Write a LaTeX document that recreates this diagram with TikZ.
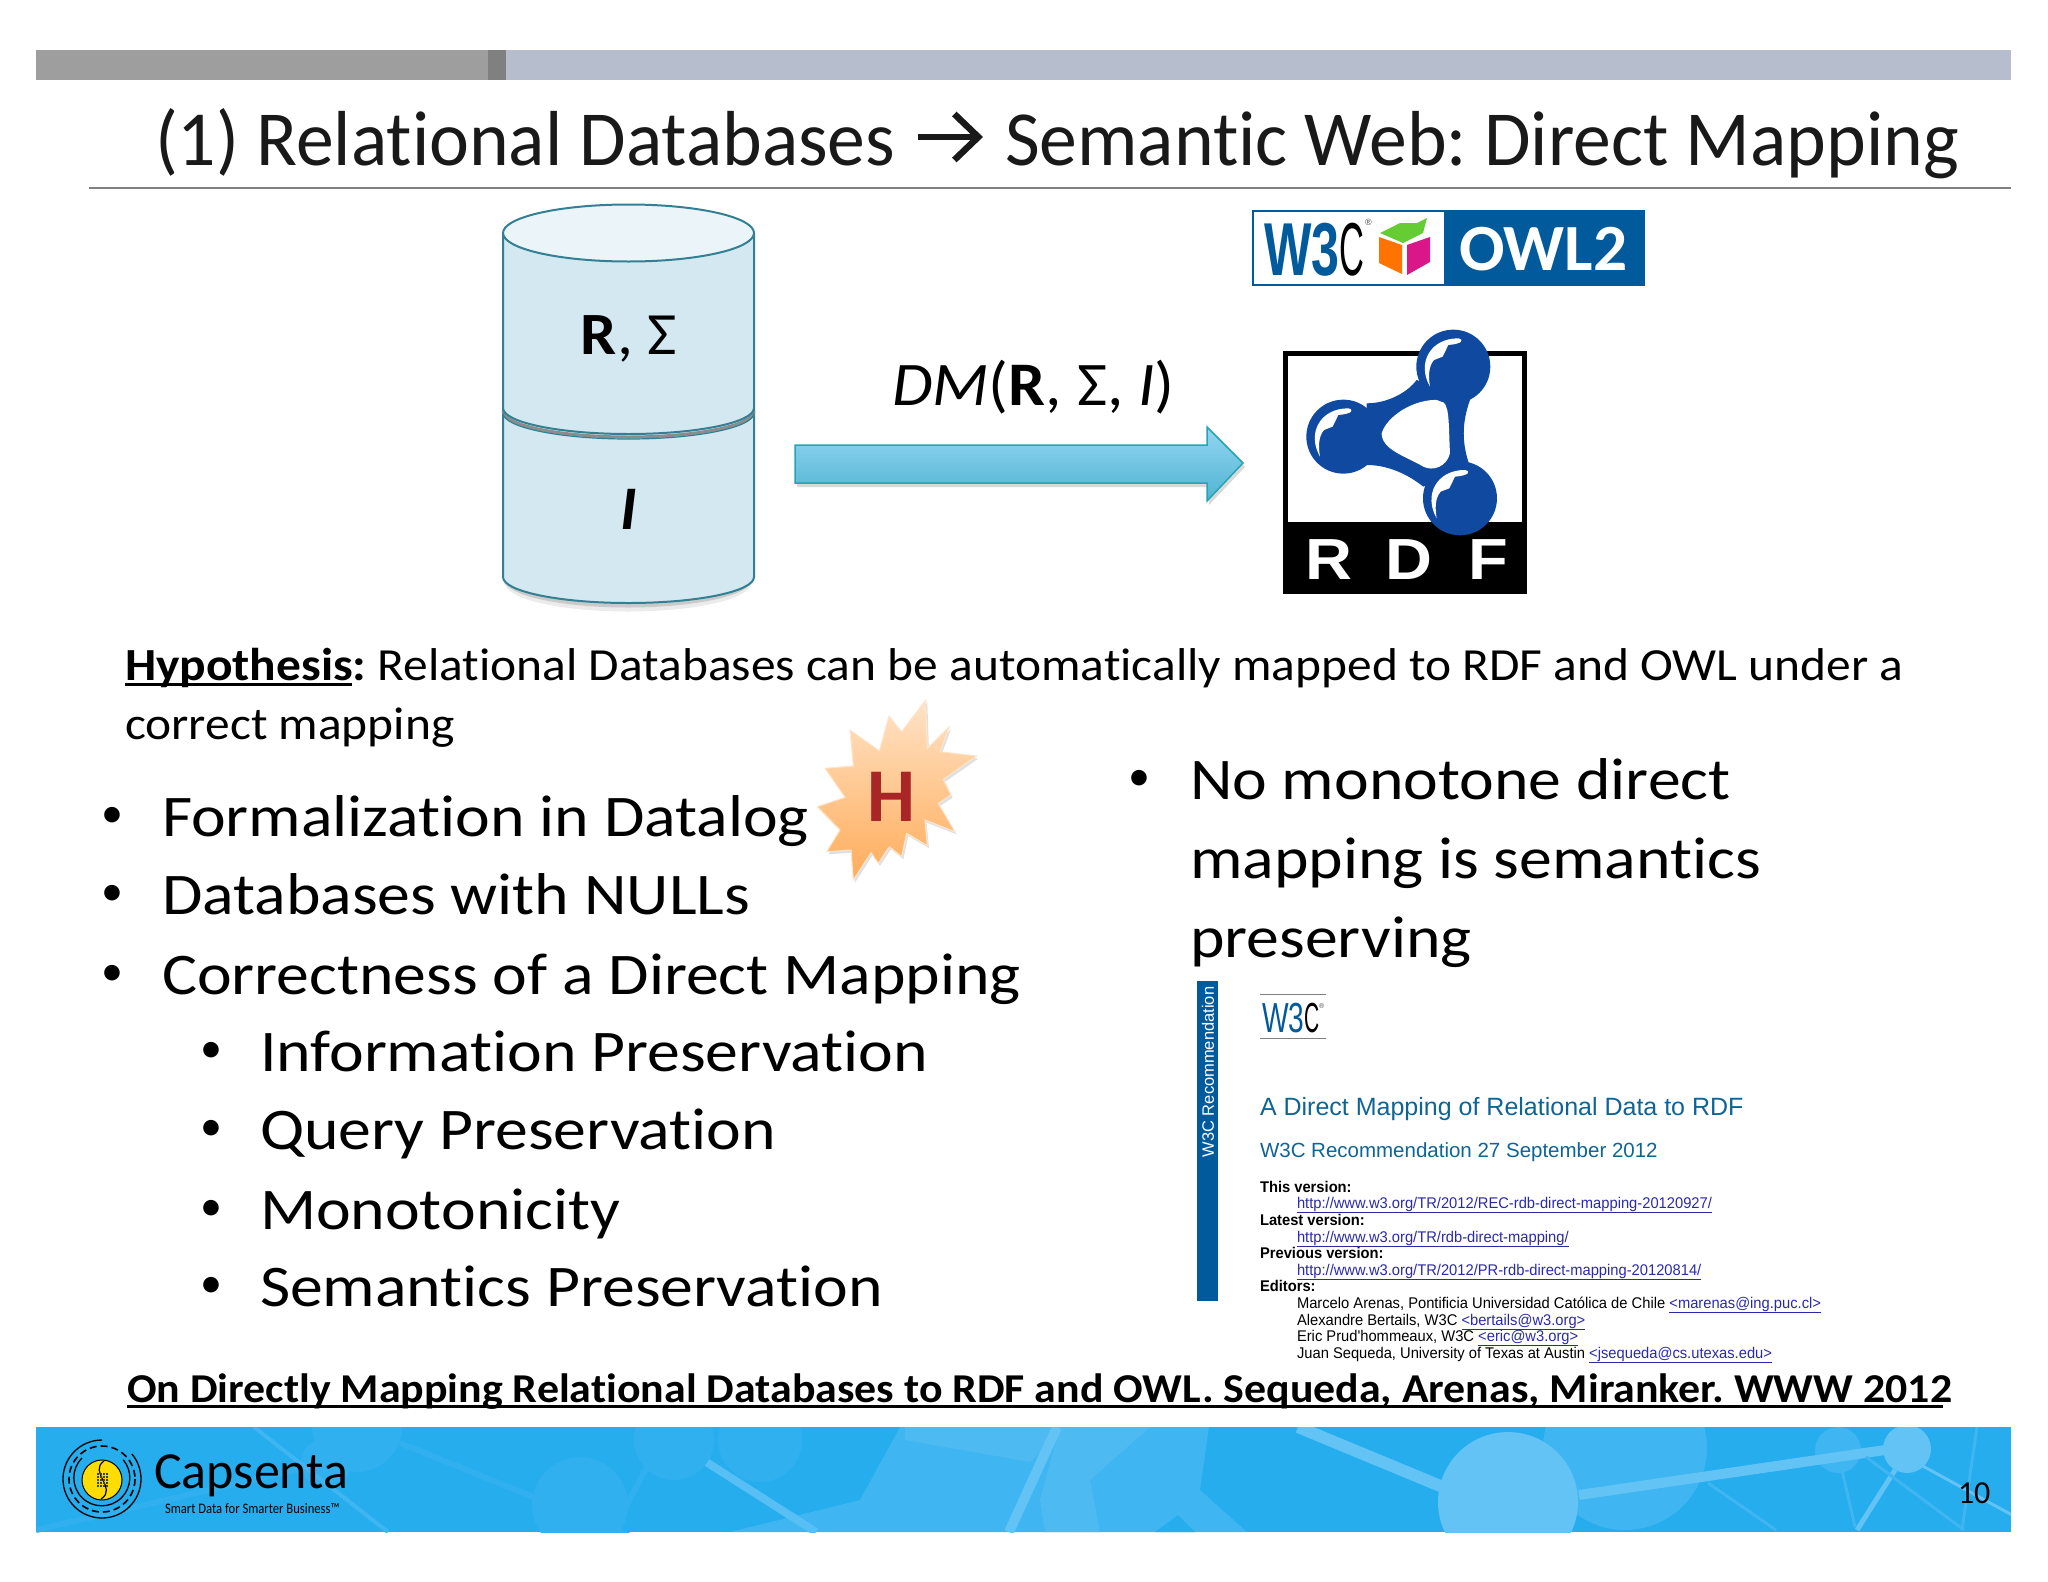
\documentclass[tikz,border=0pt]{standalone}
\usepackage{fontspec}
\setmainfont[Ligatures=NoCommon]{Carlito}
\newfontfamily\arialfont{Liberation Sans}
\usepackage{tikz}
\usetikzlibrary{positioning,arrows.meta}
\newcommand{\fsz}[1]{\fontsize{#1}{#1}\selectfont}
\newcommand{\lnk}[1]{{\color{linkblue}\underline{#1}}}
\newsavebox{\ulbox}
\newcommand{\thickul}[1]{\sbox{\ulbox}{#1}\rlap{\rule[-6pt]{.995\wd\ulbox}{3pt}}\usebox{\ulbox}}
\newcommand{\rdfshine}[2]{\fill[white, shift={(#1,#2)}] (690,590) .. controls (650,520) and (690,445) .. (775,445) .. controls (795,450) and (785,462) .. (745,465) -- (728,500) -- (702,510) .. controls (685,530) and (685,560) .. cycle;}
\definecolor{barblue}{HTML}{B6BDCC}
\definecolor{linkblue}{HTML}{2A2AA8}
\definecolor{wblue}{HTML}{005A9C}
\definecolor{headblue}{HTML}{0F6496}
\definecolor{rdfblue}{HTML}{0F4AA0}
\definecolor{dbline}{HTML}{337F93}
\definecolor{dbfill}{HTML}{D3E8F1}
\definecolor{arrtop}{HTML}{93D6F2}
\definecolor{arrbot}{HTML}{4FB4D2}
\definecolor{foot}{HTML}{25ADEE}
\definecolor{foota}{HTML}{3FB5F1}
\definecolor{footb}{HTML}{62C3F4}
\definecolor{footc}{HTML}{31B0EF}
\tikzset{
  txt/.style={anchor=base west, inner sep=0pt, outer sep=0pt},
  itemtext/.style={txt, font=\fsz{59}, xscale=1.114, transform shape},
  itemdot/.style={txt, font=\fsz{44}},
  bodytext/.style={txt, font=\fsz{46}, xscale=1.075, transform shape},
  small/.style={txt, font=\arialfont\fsz{15.5}, xscale=.95, transform shape},
  smallb/.style={txt, font=\arialfont\bfseries\fsz{15.5}, xscale=.95, transform shape},
  titletext/.style={txt, font=\fsz{78}, text=black!90, xscale=.97, transform shape},
  rdfletter/.style={txt, font=\arialfont\bfseries\fsz{58}, text=white, xscale=1.12, transform shape},
}
\begin{document}
\frenchspacing
\begin{tikzpicture}[x=1pt, y=-1pt]
\useasboundingbox (0,0) rectangle (2048,1582);
% top bar
\fill[black!38] (36,50) rectangle (488,80);
\fill[black!50] (488,50) rectangle (506,80);
\fill[barblue] (506,50) rectangle (2011,80);
\node[titletext] (titlea) at (155,165) {(1) Relational Databases};
\node[titletext] (titleb) at (1005,165) {Semantic Web: Direct Mapping};
\coordinate (arra) at (918,137);
\coordinate (arrb) at (983,137);
\draw[line width=6.5pt, black!90, -{Straight Barb[length=24pt, width=46pt, line width=6.5pt]}] (arra) -- (arrb);
\draw[black!50, line width=1.2pt] (89,188) -- (2011,188);
% database
\draw[black!40, opacity=.2, line width=9pt] (508,580) arc[start angle=180, end angle=0, x radius=120, y radius=27];
\draw[black!50, opacity=.3, line width=5pt] (506,578) arc[start angle=180, end angle=0, x radius=122, y radius=27];
\draw[dbline, line width=2pt, fill=dbfill] (503,408) -- (503,577) arc[start angle=180, end angle=0, x radius=125.5, y radius=26] -- (754,408);
\draw[black!45, line width=3pt] (503,411) arc[start angle=180, end angle=0, x radius=125.5, y radius=26];
\draw[dbline, line width=1.2pt] (503,413) arc[start angle=180, end angle=0, x radius=125.5, y radius=26];
\draw[dbline, line width=2pt, fill=dbfill] (503,233) -- (503,408) arc[start angle=180, end angle=0, x radius=125.5, y radius=26] -- (754,233);
\draw[dbline, line width=2pt, fill=dbfill!45!white] (503,233) arc[start angle=180, end angle=-180, x radius=125.5, y radius=28.5];
\node[font=\bfseries\fsz{60}, xscale=1.07, transform shape] (rsigma) at (629,339) {R\textmd{,} \textmd{Σ}};
\node[font=\bfseries\itshape\fsz{62}] (inst) at (629,509) {I};
% arrow
\node[font=\fsz{62}, xscale=1.06, transform shape] (dmlabel) at (1033.5,387) {\textit{DM}(\textbf{R}, Σ, \textit{I})};
\fill[black!50, opacity=.3] (797,449) -- (1209,449) -- (1209,431) -- (1245,467) -- (1209,505) -- (1209,487) -- (797,487) -- cycle;
\draw[dbline!70!cyan, line width=1.5pt, top color=arrtop, bottom color=arrbot] (795,445) -- (1207,445) -- (1207,427) -- (1243,463) -- (1207,501) -- (1207,483) -- (795,483) -- cycle;
% owl logo
\fill[wblue] (1252,210) rectangle (1645,286);
\fill[white] (1254,212) rectangle (1444,284);
\node[txt, font=\arialfont\bfseries\fsz{75}, xscale=.67, transform shape, text=wblue] (owlw) at (1264,275) {W3};
\node[txt, font=\arialfont\fsz{75}, xscale=.46, transform shape] (owlc) at (1339,275) {C};
\node[txt, font=\arialfont\fsz{9}, text=black!70] (owlr) at (1365,225) {®};
\fill[green!50!olive!80] (1380,233) -- (1400,223) -- (1417,223) -- (1427,218) -- (1423,233) -- (1403,243) -- cycle;
\fill[orange!90!red] (1379,237) -- (1402,245) -- (1402,274) -- (1379,263) -- cycle;
\fill[magenta!80!violet] (1407,245) -- (1430,237) -- (1430,262) -- (1407,275) -- cycle;
\node[txt, font=\bfseries\fsz{66}, text=white, xscale=1.02, transform shape] (owl2) at (1459,270) {OWL2};
% rdf logo
\fill[black] (1283,351) rectangle (1527,594);
\fill[white] (1288,356) rectangle (1522,522);
\begin{scope}[shift={(1200,190)}, x=.3333pt, y=-.3333pt]
  \fill[rdfblue] (650,570) .. controls (620,610) and (560,640) .. (500,640) -- (500,825) .. controls (560,825) and (620,850) .. (670,890) -- (810,830) .. controls (785,760) and (785,700) .. (810,630) -- cycle;
  \fill[white] (545,730) .. controls (560,680) and (640,625) .. (720,630) .. controls (750,640) and (745,690) .. (750,790) .. controls (740,830) and (700,845) .. (670,830) .. controls (620,800) and (545,780) .. (545,730) -- cycle;
  \fill[rdfblue] (760,530) circle[radius=111] (430,740) circle[radius=111] (780,925) circle[radius=111];
  \rdfshine{0}{0}
  \rdfshine{-330}{210}
  \rdfshine{20}{395}
\end{scope}
\node[rdfletter] (rdfr) at (1305,579) {R};
\node[rdfletter] (rdfd) at (1385,579) {D};
\node[rdfletter] (rdff) at (1468,579) {F};
% hypothesis
\node[bodytext] (hypo) at (125,680) {\textbf{\thickul{Hypothesis}:} Relational Databases can be automatically mapped to RDF and OWL under a};
\node[bodytext] (hypob) at (125,739) {correct mapping};
% left list
\node[itemdot] (d1) at (101,827) {•};
\node[itemtext] (t1) at (162,836) {Formalization in Datalog};
\node[itemdot] (d2) at (101,905) {•};
\node[itemtext] (t2) at (162,914) {Databases with NULLs};
\node[itemdot] (d3) at (101,985) {•};
\node[itemtext] (t3) at (162,994) {Correctness of a Direct Mapping};
\node[itemdot] (d4) at (200,1062) {•};
\node[itemtext] (t4) at (260,1071) {Information Preservation};
\node[itemdot] (d5) at (200,1140) {•};
\node[itemtext] (t5) at (260,1149) {Query Preservation};
\node[itemdot] (d6) at (200,1220) {•};
\node[itemtext] (t6) at (260,1229) {Monotonicity};
\node[itemdot] (d7) at (200,1297) {•};
\node[itemtext] (t7) at (260,1306) {Semantics Preservation};
% star
\begin{scope}[shift={(790,680)}, x=.3333pt, y=-.3333pt]
  \fill[black!40, opacity=.3, shift={(5,8)}] (407,60) -- (412,205) -- (478,140) -- (450,215) -- (560,228) -- (460,298) -- (483,345) -- (445,370) -- (495,455) -- (405,420) -- (412,497) -- (350,460) -- (335,530) -- (298,500) -- (265,550) -- (243,518) -- (190,600) -- (183,510) -- (110,515) -- (150,450) -- (82,380) -- (165,352) -- (105,265) -- (190,258) -- (180,150) -- (268,212) -- (297,108) -- (335,155) -- cycle;
  \draw[orange!20!white, line width=1pt, top color=orange!22!white, bottom color=orange!65!white] (407,60) -- (412,205) -- (478,140) -- (450,215) -- (560,228) -- (460,298) -- (483,345) -- (445,370) -- (495,455) -- (405,420) -- (412,497) -- (350,460) -- (335,530) -- (298,500) -- (265,550) -- (243,518) -- (190,600) -- (183,510) -- (110,515) -- (150,450) -- (82,380) -- (165,352) -- (105,265) -- (190,258) -- (180,150) -- (268,212) -- (297,108) -- (335,155) -- cycle;
\end{scope}
\node[font=\bfseries\fsz{76}, text=red!60!black!85] (hmark) at (891,797) {H};
% right list
\node[itemdot] (e1) at (1128,790) {•};
\node[itemtext] (r1) at (1190,799) {No monotone direct};
\node[itemtext] (r2) at (1190,878) {mapping is semantics};
\node[itemtext] (r3) at (1190,957) {preserving};
% recommendation page
\fill[wblue] (1197,981) rectangle (1218,1301);
\node[rotate=90, text=white, font=\arialfont\fsz{16.5}] (side) at (1208,1072) {W3C Recommendation};
\draw[black!50, line width=.8pt] (1260,994) -- (1326,994) (1260,1038) -- (1326,1038);
\node[txt, font=\arialfont\fsz{42}, xscale=.67, transform shape, text=wblue] (wmark) at (1262,1032) {W3};
\node[txt, font=\arialfont\fsz{42}, xscale=.5, transform shape] (cmark) at (1304,1032) {C};
\node[txt, font=\arialfont\fsz{7}, text=black!70] (rmark) at (1319,1008) {®};
\node[txt, font=\arialfont\fsz{25}, text=headblue] (ptitle) at (1260,1115) {A Direct Mapping of Relational Data to RDF};
\node[txt, font=\arialfont\fsz{20.5}, text=headblue] (psub) at (1260,1157) {W3C Recommendation 27 September 2012};
\node[smallb] (l1) at (1260,1192) {This version:};
\node[small] (l2) at (1297,1208) {\lnk{http://www.w3.org/TR/2012/REC-rdb-direct-mapping-20120927/}};
\node[smallb] (l3) at (1260,1225) {Latest version:};
\node[small] (l4) at (1297,1242) {\lnk{http://www.w3.org/TR/rdb-direct-mapping/}};
\node[smallb] (l5) at (1260,1258) {Previous version:};
\node[small] (l6) at (1297,1275) {\lnk{http://www.w3.org/TR/2012/PR-rdb-direct-mapping-20120814/}};
\node[smallb] (l7) at (1260,1291) {Editors:};
\node[small] (l8) at (1297,1308) {Marcelo Arenas, Pontificia Universidad Católica de Chile \lnk{<marenas@ing.puc.cl>}};
\node[small] (l9) at (1297,1325) {Alexandre Bertails, W3C \lnk{<bertails@w3.org>}};
\node[small] (l10) at (1297,1341) {Eric Prud'hommeaux, W3C \lnk{<eric@w3.org>}};
\node[small] (l11) at (1297,1358) {Juan Sequeda, University of Texas at Austin \lnk{<jsequeda@cs.utexas.edu>}};
% citation
\node[txt, font=\bfseries\fsz{41}, xscale=1.07, transform shape] (cite) at (127,1402) {\thickul{On Directly Mapping Relational Databases to RDF and OWL. Sequeda, Arenas, Miranker. WWW 2012}};
% footer
\fill[foot] (36,1427) rectangle (2011,1532);
\begin{scope}
  \clip (36,1427) rectangle (2011,1532);
  \fill[foota] (900,1427) -- (1209,1427) -- (1200,1490) -- (1247,1532) -- (730,1532) -- (860,1500) -- cycle;
  \fill[foot] (1155,1532) -- (1178,1515) -- (1195,1532) -- cycle;
  \fill[footb!40!foota] (1060,1427) -- (1150,1427) -- (1090,1480) -- (1100,1532) -- (1045,1532) -- (1040,1500) -- cycle;
  \fill[footb!40!foota] (905,1427) -- (1070,1427) -- (1030,1462) -- (905,1440) -- cycle;
  \draw[footb, line width=10pt] (1057,1427) -- (1009,1532);
  \draw[footb!70!foota, line width=8pt] (700,1458) -- (816,1532);
  \fill[footc] (357,1427) circle[radius=45] (674,1440) circle[radius=40] (580,1505) circle[radius=48] (326,1463) circle[radius=25] (760,1440) circle[radius=42];
  \draw[footc, line width=6pt] (36,1530) -- (326,1463) (400,1443) -- (640,1540) (647,1467) -- (612,1532);
  \draw[foota, line width=4pt] (254,1427) -- (388,1532);
  \fill[foota] (1625,1448) circle[radius=82] (1838,1450) circle[radius=23];
  \draw[footb, line width=12pt] (1298,1427) -- (1450,1490);
  \fill[footb] (1508,1502) circle[radius=70] (1907,1449) circle[radius=24];
  \draw[footb, line width=10pt] (1579,1495) -- (1885,1450);
  \draw[footb, line width=5pt] (1895,1470) -- (1857,1530);
  \draw[footb, line width=3pt] (1921,1465) -- (2012,1515);
  \draw[foota, line width=3pt] (1866,1457) -- (1964,1530) (1708,1483) -- (1776,1530) (1842,1470) -- (1855,1527) (1977,1427) -- (1962,1530);
\end{scope}
% capsenta logo
\draw[black, line width=1.3pt] (102,1440) arc[start angle=-90, end angle=-400, radius=39];
\draw[black, line width=1.6pt, dash pattern=on 7pt off 4pt] (102,1479) circle[radius=33];
\draw[black, line width=1.3pt] (82,1458) arc[start angle=225, end angle=-40, radius=28];
\fill[yellow!80!orange, draw=black, line width=1pt] (102,1480) circle[radius=20];
\draw[black, line width=1.2pt] (104,1461) .. controls (88,1472) and (118,1488) .. (101,1499);
\foreach \dx in {-4.5,-1.5,1.5,4.5}
  \foreach \dy in {-6,-3,0,3,6}
    \fill[black!75] (102+\dx-1,1480+\dy-1) rectangle (102+\dx+1,1480+\dy+1);
\node[txt, font=\fsz{52}] (brand) at (154,1488) {Capsenta};
\node[txt, font=\fsz{14.5}, xscale=.87, transform shape] (slogan) at (165,1513) {Smart Data for Smarter Business™};
\node[txt, font=\fsz{32}] (pnum) at (1958,1503) {10};
\end{tikzpicture}
\end{document}
